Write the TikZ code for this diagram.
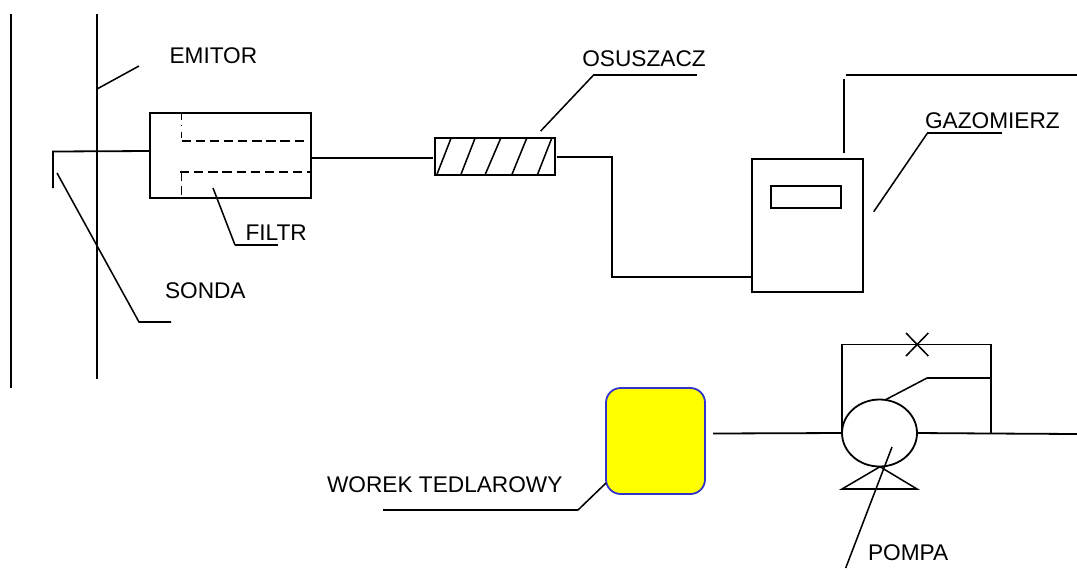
\documentclass[tikz,border=0pt]{standalone}
\usepackage{fontspec}
\setmainfont{Liberation Sans}
\usetikzlibrary{shapes.geometric}
\definecolor{bagfill}{RGB}{255,255,0}
\definecolor{bagedge}{RGB}{51,51,204}
\tikzset{
  ln/.style={line width=1.35pt,line cap=butt,line join=miter,black},
  thin ln/.style={line width=1.15pt,black},
  box/.style={draw,line width=1.35pt,fill=none,inner sep=0pt,outer sep=0pt},
  lbl/.style={anchor=base west,inner sep=0pt,outer sep=0pt,font=\fontsize{17}{20}\selectfont},
  dash line/.style={line width=1.15pt,dash pattern=on 7pt off 3.6pt},
}
\begin{document}
\begin{tikzpicture}[x=0.75pt,y=-0.75pt]
\useasboundingbox (0,0) rectangle (1077,569);
% labels
\node[lbl] (emitorL) at (169.5,63.3) {EMITOR};
\node[lbl] (filtrL) at (245.5,240) {FILTR};
\node[lbl] (sondaL) at (165,298) {SONDA};
\node[lbl] (osusL) at (582.3,66.7) {OSUSZACZ};
\node[lbl] (gazL) at (925,128.3) {GAZOMIERZ};
\node[lbl] (worekL) at (327,492) {WOREK TEDLAROWY};
\node[lbl] (pompaL) at (868,560.7) {POMPA};
% components
\node[box,minimum width=120.8pt,minimum height=63.75pt] (filter) at (230.55,155.5) {};
\node[box,minimum width=90pt,minimum height=27.5pt] (osus) at (495,156.65) {};
\node[box,minimum width=83.25pt,minimum height=99.75pt] (gaz) at (807.8,225.8) {};
\node[box,minimum width=52.3pt,minimum height=16.7pt] (disp) at (805.85,197.15) {};
\node[draw=bagedge,fill=bagfill,line width=1.35pt,rounded corners=11pt,inner sep=0pt,outer sep=0pt,minimum width=74.25pt,minimum height=79.5pt] (bag) at (655.5,441) {};
\node[draw,ellipse,line width=1.35pt,inner sep=0pt,outer sep=0pt,minimum width=56.25pt,minimum height=50.25pt] (pump) at (879.5,433) {};
% free ends
\coordinate (wallT) at (11,14); \coordinate (wallB) at (11,388);
\coordinate (emT) at (97,14); \coordinate (emB) at (97,379);
\coordinate (emA) at (97,89); \coordinate (emC) at (139,66);
\coordinate (sTip) at (53,188); \coordinate (sBend) at (53,151.5); \coordinate (sIn) at (150,151);
\coordinate (sA) at (57,173); \coordinate (sC) at (139,322); \coordinate (sD) at (171,322);
\coordinate (fA) at (213,188); \coordinate (fC) at (235,245); \coordinate (fD) at (278,245);
\coordinate (fOut) at (311,157.7); \coordinate (oIn) at (432.7,157.7);
\coordinate (oOut) at (556.7,157); \coordinate (oBend) at (612.3,157); \coordinate (oBend2) at (612.3,277); \coordinate (gIn) at (752.3,277);
\coordinate (oA) at (540.7,131); \coordinate (oC) at (593.3,75.3); \coordinate (oD) at (696.7,75.3);
\coordinate (stB) at (843.7,153.3); \coordinate (stT) at (843.7,79.3);
\coordinate (exA) at (846,74.7); \coordinate (exB) at (1077,74.7);
\coordinate (gA) at (873.7,211.7); \coordinate (gC) at (927.3,133.3); \coordinate (gD) at (1002.3,133.3);
\coordinate (bA) at (606,483); \coordinate (bC) at (578,510); \coordinate (bD) at (383,510);
\coordinate (bOut) at (713,433.5);
\coordinate (byA) at (842,344.5); \coordinate (byB) at (991,344.5); \coordinate (byC) at (991,433.5);
\coordinate (outEnd) at (1077,434);
\coordinate (inA) at (885,400); \coordinate (inB) at (927,378); \coordinate (inC) at (991,378);
\coordinate (vA) at (906,333); \coordinate (vB) at (928.3,356); \coordinate (vC) at (928.3,333); \coordinate (vD) at (906,356);
\coordinate (tA) at (880,466.7); \coordinate (tB) at (842,489); \coordinate (tC) at (917,489);
\coordinate (pA) at (892,447); \coordinate (pB) at (845.7,568);
% stack and probe
\draw[ln] (wallT) -- (wallB);
\draw[ln] (emT) -- (emB);
\draw[thin ln] (emA) -- (emC);
\draw[ln] (sTip) -- (sBend) -- (sIn);
\draw[thin ln] (sA) -- (sC) -- (sD);
% filter interior
\draw[line width=1.15pt,dash pattern=on 5pt off 4pt on 1pt off 4pt on 5pt off 2pt] (181.5,113) -- (181.5,141);
\draw[dash line] (181.5,141) -- (305,141);
\draw[dash line] (180,172) -- (311,172);
\draw[dash line] (181.5,172) -- (181.5,198);
\draw[thin ln] (fA) -- (fC);
\draw[ln] (fC) -- (fD);
% dryer
\draw[ln] (fOut) -- (oIn);
\foreach \a/\b in {436.7/451,460.7/475,485/500.7,511.7/526.7,537.3/551.7}
  \draw[thin ln] (\a,175) -- (\b,138.3);
\draw[ln] (oOut) -- (oBend) -- (oBend2) -- (gIn);
\draw[thin ln] (oA) -- (oC);
\draw[ln] (oC) -- (oD);
% meter
\draw[ln] (stB) -- (stT);
\draw[ln] (exA) -- (exB);
\draw[thin ln] (gA) -- (gC);
\draw[ln] (gC) -- (gD);
% bag
\draw[thin ln] (bA) -- (bC);
\draw[ln] (bC) -- (bD);
% pump
\draw[ln] (bOut) -- (pump.west);
\draw[ln] (pump.west) -- (byA) -- (byB) -- (byC);
\draw[ln] (pump.east) -- (byC) -- (outEnd);
\draw[thin ln] (inA) -- (inB);
\draw[ln] (inB) -- (inC);
\draw[thin ln] (vA) -- (vB);
\draw[thin ln] (vC) -- (vD);
\draw[thin ln,line join=miter] (tA) -- (tB) -- (tC) -- cycle;
\draw[thin ln] (pA) -- (pB);
\end{tikzpicture}
\end{document}
